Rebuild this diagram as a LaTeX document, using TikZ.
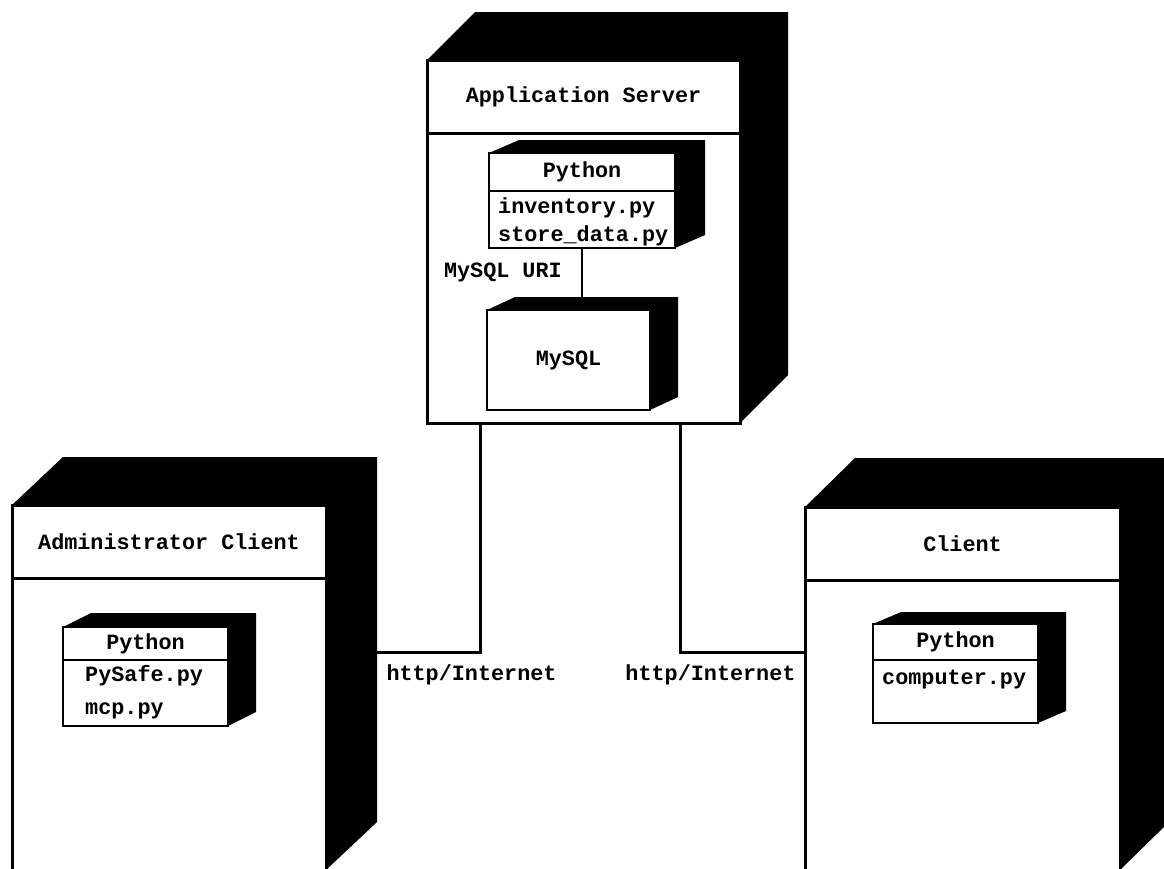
\documentclass[tikz,border=0pt]{standalone}
\usepackage{fontspec}
\setmonofont{Liberation Mono}
\usetikzlibrary{positioning,calc}

% black top and right faces of a 3D box: top node, bottom node, dx, dy
\newcommand{\boxdepth}[4]{%
  \fill (#1.north west) -- ++(#3,-#4) -- ($(#1.north east)+(#3,-#4)$)
    -- ($(#2.south east)+(#3,-#4)$) -- (#2.south east) -- (#1.north east) -- cycle;
}

\begin{document}
\begin{tikzpicture}[x=1pt, y=-1pt, line join=miter,
    labelfont/.style={font=\ttfamily\bfseries\fontsize{21.8}{28}\selectfont},
    nodetitle/.style={draw, fill=white, line width=3pt, outer sep=0pt, inner sep=0pt, labelfont},
    nodebody/.style={draw, fill=white, line width=3pt, outer sep=0pt, inner sep=0pt},
    arttitle/.style={nodetitle, line width=2pt},
    artbody/.style={nodebody, line width=2pt},
    files/.style={align=left, inner sep=0pt, labelfont},
    link/.style={line width=3pt},
    linklabel/.style={inner sep=0pt, labelfont}]

  \useasboundingbox[fill=white] (0,0) rectangle (1164,868);

  % application server
  \node[nodetitle, minimum width=313pt, minimum height=73pt] (srv) at (583.5,96.5) {Application Server};
  \node[nodebody, minimum width=313pt, minimum height=290pt, below=0pt of srv] (srvbody) {};
  \boxdepth{srv}{srvbody}{48}{48}

  \node[arttitle, minimum width=186pt, minimum height=38pt] (apppy) at (582,172) {Python};
  \node[artbody, minimum width=186pt, minimum height=57pt, below=0pt of apppy] (apppybody) {};
  \boxdepth{apppy}{apppybody}{30}{13}
  \node[files, below right=6pt and 9pt of apppybody.north west] (appfiles) {inventory.py\\store\_data.py};

  \node[arttitle, minimum width=163pt, minimum height=100pt] (mysql) at (568.5,360) {MySQL};
  \boxdepth{mysql}{mysql}{28}{13}

  \draw[link, line width=2.5pt] (apppybody.south) -- (apppybody.south |- mysql.north)
    node[linklabel, pos=0.4, left, xshift=-19pt] {MySQL URI};

  % administrator client
  \node[nodetitle, minimum width=314pt, minimum height=73pt] (admin) at (169,541.5) {Administrator Client};
  \node[nodebody, minimum width=314pt, minimum height=292pt, below=0pt of admin] (adminbody) {};
  \boxdepth{admin}{adminbody}{51}{48}

  \node[arttitle, minimum width=165pt, minimum height=33pt] (admpy) at (145.5,643.5) {Python};
  \node[artbody, minimum width=165pt, minimum height=66pt, below=0pt of admpy] (admpybody) {};
  \boxdepth{admpy}{admpybody}{28}{14}
  \node[files, below right=5pt and 22pt of admpybody.north west] (admfiles) {PySafe.py\\[5pt]mcp.py};

  % client
  \node[nodetitle, minimum width=315pt, minimum height=73pt] (client) at (962.5,543.5) {Client};
  \node[nodebody, minimum width=315pt, minimum height=290pt, below=0pt of client] (clientbody) {};
  \boxdepth{client}{clientbody}{50}{49}

  \node[arttitle, minimum width=165pt, minimum height=36pt] (clipy) at (955.5,642) {Python};
  \node[artbody, minimum width=165pt, minimum height=63pt, below=0pt of clipy] (clipybody) {};
  \boxdepth{clipy}{clipybody}{28}{12}
  \node[files, below right=10pt and 9pt of clipybody.north west] (clifiles) {computer.py};

  % links
  \coordinate (admport) at (377,652);
  \draw[link] ([xshift=53pt]srvbody.south west) |- (admport)
    node[linklabel, anchor=north west, xshift=8pt, yshift=-11pt] {http/Internet};
  \draw[link] ([xshift=-60pt]srvbody.south east) |- (clientbody.west |- admport)
    node[linklabel, anchor=north east, xshift=-8pt, yshift=-11pt] {http/Internet};

\end{tikzpicture}
\end{document}
